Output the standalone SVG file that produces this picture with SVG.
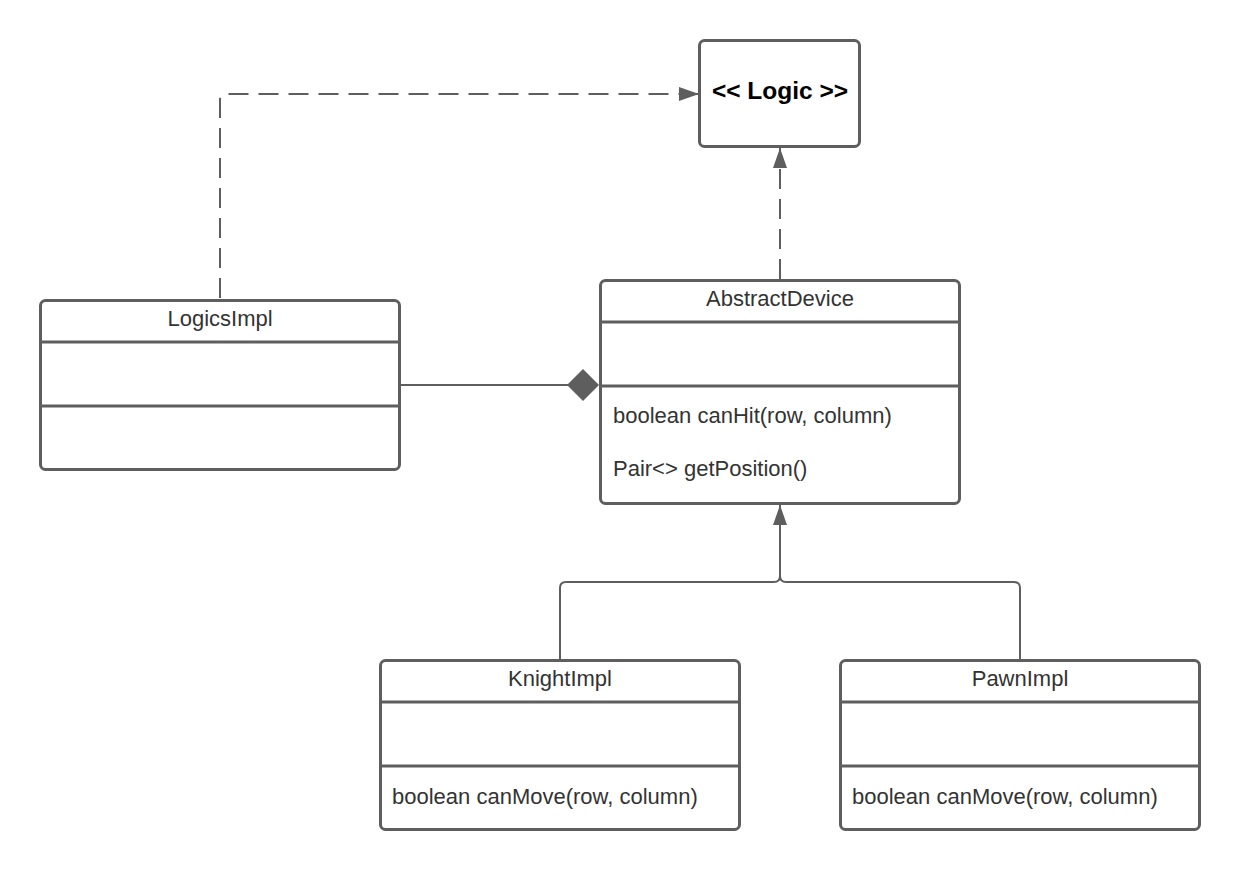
<svg xmlns="http://www.w3.org/2000/svg" width="1240" height="871" viewBox="0 0 1240 871">
<defs>
<style>
.box{fill:#fff;stroke:#5e5e5e;stroke-width:3}
.div{stroke:#5e5e5e;stroke-width:3}
.t{font-family:"Liberation Sans",Arial,sans-serif;font-size:22px;fill:#333}
.c{text-anchor:middle}
.b{font-weight:bold;font-size:24.5px;fill:#000}
.ln{fill:none;stroke:#5e5e5e;stroke-width:2}
.dash{stroke-dasharray:20 10}
</style>
<marker id="arr" viewBox="0 0 20 14" refX="20" refY="7" markerWidth="20" markerHeight="14" markerUnits="userSpaceOnUse" orient="auto">
<path d="M0,0 L20,7 L0,14 Z" fill="#5e5e5e"/>
</marker>
</defs>
<rect width="1240" height="871" fill="#fff"/>
<g id="connectors">
<path class="ln dash" d="M220,298 V100 Q220,94 226,94 H699" marker-end="url(#arr)"/>
<path class="ln dash" d="M780,279 V148" marker-end="url(#arr)"/>
<path class="ln" d="M401,385 H568"/>
<path d="M567,385 L583,369 L599,385 L583,401 Z" fill="#5e5e5e"/>
<path class="ln" d="M560,659 V588 Q560,582 566,582 H774 Q780,582 780,576"/>
<path class="ln" d="M1020,659 V588 Q1020,582 1014,582 H786 Q780,582 780,576"/>
<path class="ln" d="M780,578 V505" marker-end="url(#arr)"/>
</g>
<g id="logic">
<rect class="box" x="699.5" y="40.5" width="160" height="106" rx="5"/>
<text class="t c b" x="780" y="99">&lt;&lt; Logic &gt;&gt;</text>
</g>
<g id="abstractdevice">
<rect class="box" x="600.5" y="280.5" width="359" height="223" rx="5"/>
<line class="div" x1="600" y1="322" x2="960" y2="322"/>
<line class="div" x1="600" y1="386" x2="960" y2="386"/>
<text class="t c" x="780" y="306">AbstractDevice</text>
<text class="t" x="613" y="423">boolean canHit(row, column)</text>
<text class="t" x="613" y="476">Pair&lt;&gt; getPosition()</text>
</g>
<g id="logicsimpl">
<rect class="box" x="40.5" y="300.5" width="359" height="169" rx="5"/>
<line class="div" x1="40" y1="342" x2="400" y2="342"/>
<line class="div" x1="40" y1="406" x2="400" y2="406"/>
<text class="t c" x="220" y="326">LogicsImpl</text>
</g>
<g id="knightimpl">
<rect class="box" x="380.5" y="660.5" width="359" height="169" rx="5"/>
<line class="div" x1="380" y1="702" x2="740" y2="702"/>
<line class="div" x1="380" y1="766" x2="740" y2="766"/>
<text class="t c" x="560" y="686">KnightImpl</text>
<text class="t" x="392" y="804">boolean canMove(row, column)</text>
</g>
<g id="pawnimpl">
<rect class="box" x="840.5" y="660.5" width="359" height="169" rx="5"/>
<line class="div" x1="840" y1="702" x2="1200" y2="702"/>
<line class="div" x1="840" y1="766" x2="1200" y2="766"/>
<text class="t c" x="1020" y="686">PawnImpl</text>
<text class="t" x="852" y="804">boolean canMove(row, column)</text>
</g>
</svg>
